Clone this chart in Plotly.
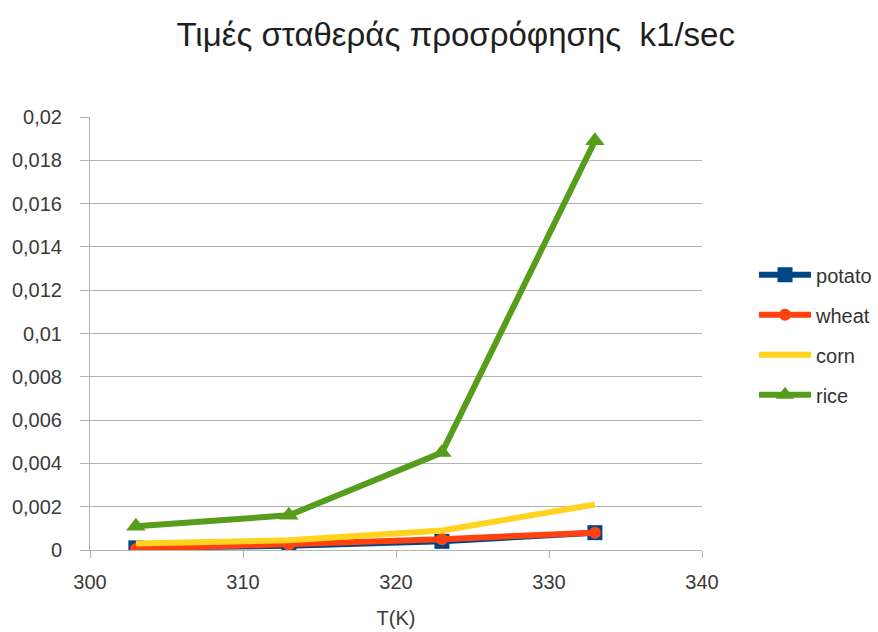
import plotly.graph_objects as go

# Temperature (K) and adsorption rate constant k1 (1/sec)
temperature = [303, 313, 323, 333]
potato = [0.0001, 0.0002, 0.0004, 0.0008]
wheat = [0.00005, 0.00025, 0.0005, 0.0008]
corn = [0.0003, 0.00045, 0.0009, 0.0021]
rice = [0.0011, 0.0016, 0.0045, 0.0189]

series = [
    ("potato", potato, "#004586", "square", 15),
    ("wheat", wheat, "#ff420e", "circle", 12),
    ("corn", corn, "#ffd320", None, 0),
    ("rice", rice, "#579d1c", "triangle-up", 17),
]

fig = go.Figure()
for name, vals, color, symbol, size in series:
    if symbol:
        fig.add_trace(go.Scatter(
            x=temperature, y=vals, name=name, legendgroup=name,
            mode="lines+markers",
            line=dict(color=color, width=6),
            marker=dict(symbol=symbol, size=size, color=color),
        ))
    else:
        fig.add_trace(go.Scatter(
            x=temperature, y=vals, name=name, legendgroup=name, mode="lines",
            line=dict(color=color, width=6),
        ))

fig.update_layout(
    width=878, height=632,
    paper_bgcolor="white", plot_bgcolor="white",
    separators=",.",
    font=dict(family="Liberation Sans, Arial, sans-serif", color="#3a3a3a", size=20),
    title=dict(text="Τιμές σταθεράς προσρόφησης  k1/sec", x=0.519, xanchor="center",
               y=0.945, yanchor="middle", font=dict(size=33, color="#1e1e1e")),
    margin=dict(l=90, r=176, t=117, b=82, autoexpand=False),
    showlegend=True,
    legend=dict(x=1.085, xanchor="left", y=0.497, yanchor="middle",
                font=dict(size=20, color="#333333"), itemwidth=52,
                tracegroupgap=11),
    xaxis=dict(range=[300, 340], dtick=10, showgrid=False, zeroline=False,
               showline=True, linecolor="#b3b3b3", ticks="outside",
               tickcolor="#b3b3b3", ticklen=7, ticklabelstandoff=7,
               tickfont=dict(size=20),
               title=dict(text="T(K)", font=dict(size=20), standoff=18)),
    yaxis=dict(range=[0, 0.02], dtick=0.002, showgrid=True, gridcolor="#b3b3b3",
               zeroline=False, showline=True, linecolor="#b3b3b3",
               ticks="outside", tickcolor="#b3b3b3", ticklen=9,
               ticklabelstandoff=14, tickfont=dict(size=20)),
)

fig.write_html("out.html")
